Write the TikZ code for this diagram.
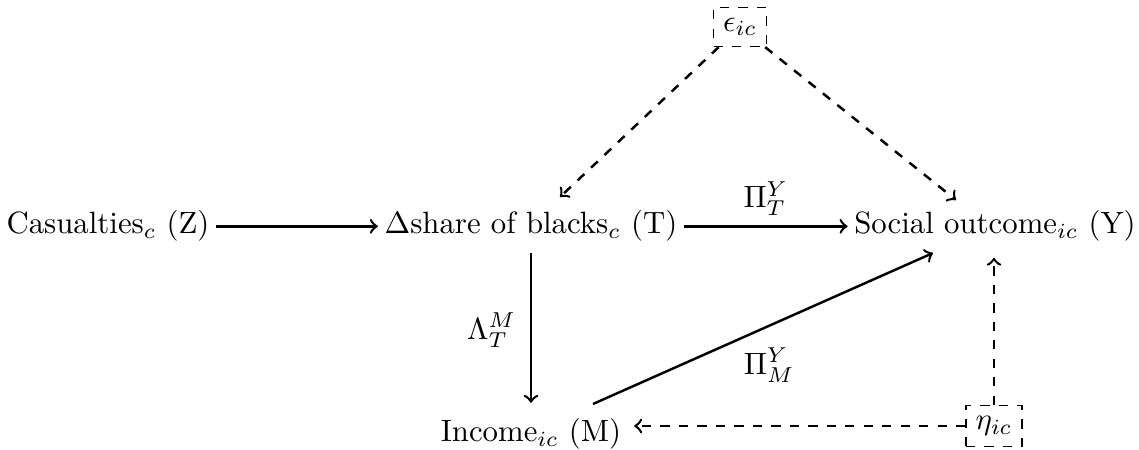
\documentclass[tikz,border=0pt]{standalone}
\usetikzlibrary{calc}
\begin{document}
\begin{tikzpicture}[x=0.3247pt, y=-0.3247pt,
  txt/.style={anchor=base, inner sep=2pt},
  errbox/.style={draw, dashed, line width=0.4pt, inner sep=0pt},
  arr/.style={-to, line width=0.8pt},
  darr/.style={-to, line width=0.8pt, dashed},
  lbl/.style={inner sep=0pt}]
\useasboundingbox (0,0) rectangle (1139,450);
\node[txt] (Z) at (108,234) {Casualties$_c$ (Z)};
\node[txt] (T) at (531,234) {$\Delta$share of blacks$_c$ (T)};
\node[txt] (Y) at (995,234) {Social outcome$_{ic}$ (Y)};
\node[txt] (M) at (531,442) {Income$_{ic}$ (M)};
\node[errbox, minimum width=17.2pt, minimum height=12.7pt] (E) at (740,27) {$\epsilon_{ic}$};
\node[errbox, minimum width=18.2pt, minimum height=13.3pt] (H) at (994,426) {$\eta_{ic}$};

\draw[arr] (Z) -- (T);
\draw[arr] (T) -- node[lbl, above=3pt] {$\Pi^Y_T$} (Y);
\draw[arr, shorten <=1.5pt, shorten >=3pt] (T) -- node[lbl, left=4.5pt] {$\Lambda^M_T$} (M);
\draw[arr] ($(M.base)+(62,-38)$) -- node[lbl, below=6pt, xshift=2pt] {$\Pi^Y_M$} ($(Y.base)+(-62,19)$);
\draw[darr] (E) -- ($(T.base)+(29,-37)$);
\draw[darr] (E) -- ($(Y.base)+(-39,-34)$);
\draw[darr, shorten >=2pt] (H) -- (M.east |- H);
\draw[darr, shorten >=3pt] (H.north) -- (Y.south -| H.north);
\end{tikzpicture}
\end{document}
